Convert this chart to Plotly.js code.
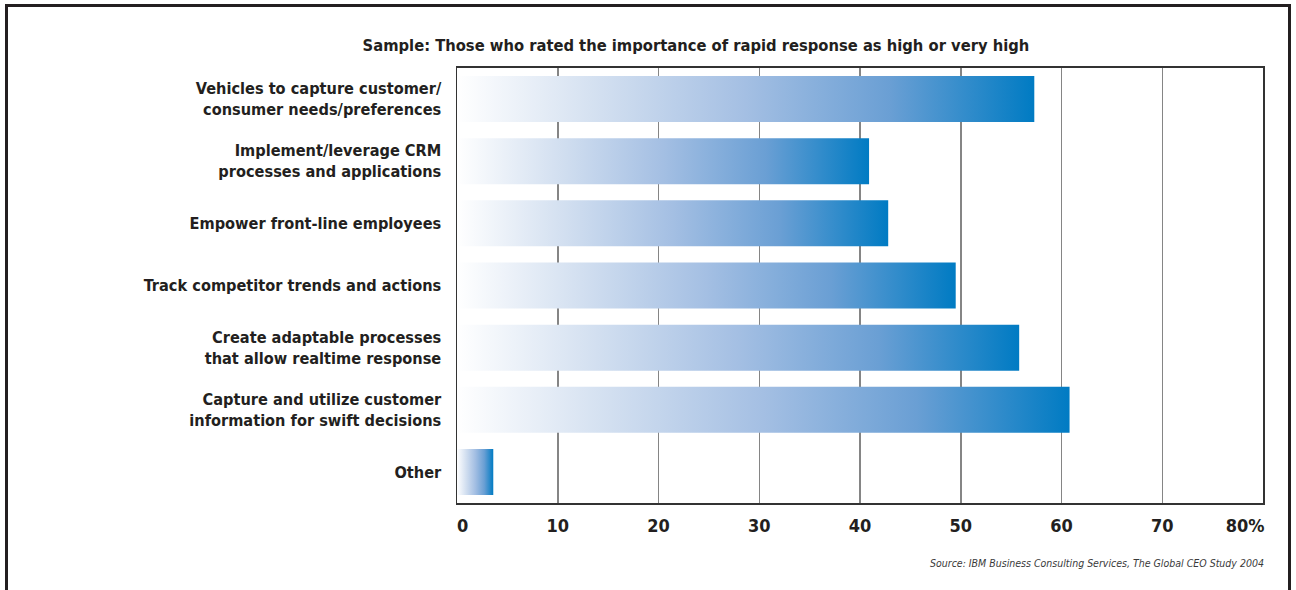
<!DOCTYPE html>
<html>
<head>
<meta charset="utf-8">
<script src="https://cdn.plot.ly/plotly-3.0.1.min.js"></script>
<style>
  html, body { margin: 0; padding: 0; background: #ffffff; overflow: hidden; }
  #wrap { position: relative; width: 1296px; height: 590px; }
  #chart { position: absolute; left: 0; top: 0; width: 1296px; height: 590px; }
  #frame { position: absolute; left: 5px; top: 4px; width: 1286px; height: 620px;
           border: 3px solid #231f20; box-sizing: border-box; pointer-events: none; }
</style>
</head>
<body>
<div id="wrap">
  <div id="chart"></div>
  <div id="frame"></div>
</div>
<script>
// ---- data ----
const categories = [
  "Vehicles to capture customer/<br>consumer needs/preferences",
  "Implement/leverage CRM<br>processes and applications",
  "Empower front-line employees",
  "Track competitor trends and actions",
  "Create adaptable processes<br>that allow realtime response",
  "Capture and utilize customer<br>information for swift decisions",
  "Other"
];
const values = [57.3, 40.9, 42.8, 49.5, 55.8, 60.8, 3.6];
const xTickVals = [0, 10, 20, 30, 40, 50, 60, 70, 80];
const xTickText = ["0", "10", "20", "30", "40", "50", "60", "70", "80%"];
const titleText = "Sample: Those who rated the importance of rapid response as high or very high";
const sourceText = "Source: IBM Business Consulting Services, The Global CEO Study 2004";

// ---- styling ----
const FONT = "'Liberation Sans Narrow', 'Arial Narrow', 'DejaVu Sans Condensed', sans-serif";
const TXT = "#231f20";
const gradient = [
  [0.00, "#ffffff"],
  [0.25, "#d2dff0"],
  [0.50, "#a4bfe3"],
  [0.75, "#6a9fd4"],
  [1.00, "#007bc3"]
];
const half = 0.37;
const NB = "\u00A0";
const last = xTickVals.length - 1;
const mainVals = xTickVals.slice(0, last);
const mainText = xTickText.slice(0, last).map((t, i) => (i === 0 ? NB + NB + t : t));
const endVals = xTickVals.slice(last);
const endText = xTickText.slice(last);
const xRange = [0, xTickVals[last]];
const tickFont = { family: FONT, size: 18, weight: "bold", color: TXT };

const traces = values.map((v, i) => ({
  type: "scatter",
  mode: "lines",
  x: [0, v, v, 0, 0],
  y: [i - half, i - half, i + half, i + half, i - half],
  fill: "toself",
  fillgradient: { type: "horizontal", colorscale: gradient },
  line: { width: 0, color: "rgba(0,0,0,0)" },
  name: categories[i].replace("<br>", " "),
  hoverinfo: "text",
  text: categories[i].replace("<br>", " ") + ": " + v + "%",
  showlegend: false
}));
// invisible helper trace so the secondary x axis (end label) is drawn
traces.push({
  type: "scatter", mode: "markers", x: [xRange[1]], y: [0],
  xaxis: "x2", yaxis: "y", marker: { opacity: 0 }, hoverinfo: "skip", showlegend: false
});

const layout = {
  width: 1296,
  height: 590,
  margin: { l: 457, r: 33, t: 68, b: 87 },
  paper_bgcolor: "#ffffff",
  plot_bgcolor: "#ffffff",
  font: { family: FONT, color: TXT },
  title: {
    text: titleText,
    font: { family: FONT, size: 16.4, weight: "bold", color: TXT },
    xref: "container", x: 0.537, xanchor: "center",
    yref: "container", y: 0.924, yanchor: "middle"
  },
  xaxis: {
    range: xRange,
    tickvals: mainVals,
    ticktext: mainText,
    showgrid: true,
    gridcolor: "#858585",
    gridwidth: 1.5,
    zeroline: false,
    showline: true,
    linecolor: "#333333",
    linewidth: 2,
    mirror: true,
    ticks: "",
    ticklabelstandoff: 5,
    tickfont: tickFont,
    fixedrange: true
  },
  xaxis2: {
    overlaying: "x",
    anchor: "y",
    side: "bottom",
    range: xRange,
    tickvals: endVals,
    ticktext: endText,
    showgrid: false,
    zeroline: false,
    showline: true,
    linecolor: "#333333",
    linewidth: 2,
    ticks: "",
    ticklabelstandoff: 5,
    ticklabelshift: -18,
    tickfont: tickFont,
    fixedrange: true
  },
  yaxis: {
    range: [6.5, -0.5],
    tickvals: categories.map((c, i) => i),
    ticktext: categories,
    showgrid: false,
    zeroline: false,
    showline: true,
    linecolor: "#333333",
    linewidth: 1.5,
    mirror: true,
    ticks: "",
    ticklabelstandoff: 11,
    tickfont: { family: FONT, size: 16.2, weight: "bold", color: TXT },
    fixedrange: true
  },
  annotations: [{
    text: sourceText,
    xref: "paper", x: 1, xanchor: "right", xshift: 3,
    yref: "paper", y: -0.138, yanchor: "middle",
    showarrow: false,
    font: { family: FONT, size: 10.5, style: "italic", color: "#3a3a3a" }
  }]
};

Plotly.newPlot("chart", traces, layout, { displayModeBar: false, staticPlot: true });
</script>
</body>
</html>
